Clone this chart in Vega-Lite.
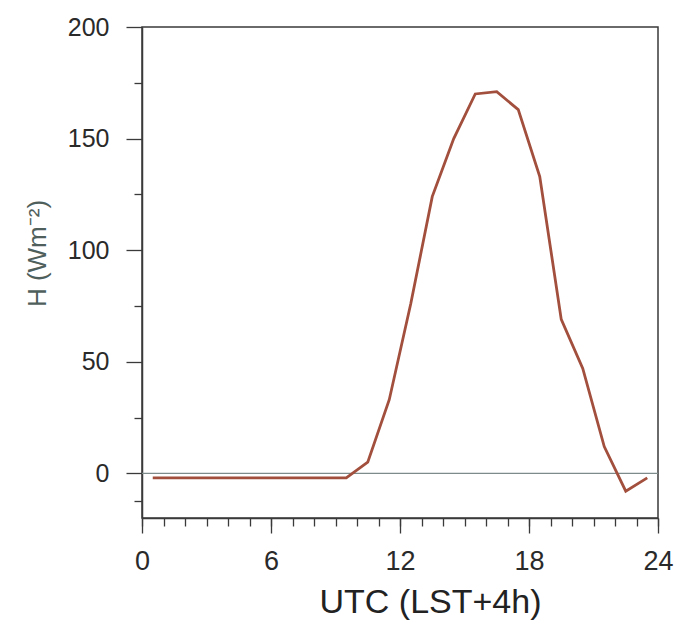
{
  "$schema": "https://vega.github.io/schema/vega-lite/v6.json",
  "width": 516,
  "height": 491,
  "autosize": {"type": "none"},
  "padding": {"left": 142, "top": 27, "right": 21, "bottom": 103},
  "background": "white",
  "config": {
    "view": {"stroke": "#3a3a3a", "strokeWidth": 1.5},
    "axis": {
      "grid": false,
      "domainColor": "#3a3a3a",
      "domainWidth": 1.5,
      "tickColor": "#3a3a3a",
      "tickWidth": 1.3,
      "labelFont": "Liberation Sans",
      "titleFont": "Liberation Sans",
      "labelColor": "#2a2a2a",
      "titleColor": "#222222",
      "labelFlush": false,
      "labelOverlap": false,
      "labelBound": false
    }
  },
  "data": {
    "values": [
      {"hour": 0.5, "H": -2},
      {"hour": 1.5, "H": -2},
      {"hour": 2.5, "H": -2},
      {"hour": 3.5, "H": -2},
      {"hour": 4.5, "H": -2},
      {"hour": 5.5, "H": -2},
      {"hour": 6.5, "H": -2},
      {"hour": 7.5, "H": -2},
      {"hour": 8.5, "H": -2},
      {"hour": 9.5, "H": -2},
      {"hour": 10.5, "H": 5},
      {"hour": 11.5, "H": 33},
      {"hour": 12.5, "H": 76},
      {"hour": 13.5, "H": 124},
      {"hour": 14.5, "H": 150},
      {"hour": 15.5, "H": 170},
      {"hour": 16.5, "H": 171},
      {"hour": 17.5, "H": 163},
      {"hour": 18.5, "H": 133},
      {"hour": 19.5, "H": 69},
      {"hour": 20.5, "H": 47},
      {"hour": 21.5, "H": 12},
      {"hour": 22.5, "H": -8},
      {"hour": 23.5, "H": -2}
    ]
  },
  "layer": [
    {
      "data": {"values": [{"zero": 0}]},
      "mark": {"type": "rule", "color": "#7d8c8a", "strokeWidth": 1.3},
      "encoding": {
        "y": {"field": "zero", "type": "quantitative", "axis": null, "scale": {"domain": [-20, 200], "nice": false, "zero": false}}
      }
    },
    {
      "mark": {"type": "point", "opacity": 0},
      "encoding": {
        "x": {
          "field": "hour", "type": "quantitative",
          "scale": {"domain": [0, 24], "nice": false},
          "axis": {"orient": "bottom", "values": [0,1,2,3,4,5,6,7,8,9,10,11,12,13,14,15,16,17,18,19,20,21,22,23,24], "tickSize": 8, "labels": false, "domain": false, "title": null}
        },
        "y": {
          "field": "H", "type": "quantitative",
          "scale": {"domain": [-20, 200], "nice": false, "zero": false},
          "axis": {"orient": "left", "values": [175, 125, 75, 25, -12.5], "tickSize": 8, "labels": false, "domain": false, "title": null}
        }
      }
    },
    {
      "mark": {"type": "line", "color": "#a24f3d", "strokeWidth": 2.8},
      "encoding": {
        "x": {
          "field": "hour", "type": "quantitative",
          "scale": {"domain": [0, 24], "nice": false},
          "axis": {
            "orient": "bottom", "values": [0, 6, 12, 18, 24], "tickSize": 15,
            "labelFontSize": 27, "labelPadding": 15,
            "title": "UTC (LST+4h)", "titleFontSize": 34, "titleFontWeight": "normal",
            "titleX": 288, "titleY": 94, "titleAlign": "center", "titleBaseline": "alphabetic", "titleAnchor": null
          }
        },
        "y": {
          "field": "H", "type": "quantitative",
          "scale": {"domain": [-20, 200], "nice": false, "zero": false},
          "axis": {
            "orient": "left", "values": [0, 50, 100, 150, 200], "tickSize": 16,
            "labelFontSize": 25, "labelPadding": 17,
            "title": "H  (Wm⁻²)", "titleFontSize": 26, "titleFontWeight": "normal", "titleColor": "#4f605c",
            "titleAngle": -90, "titleX": -97, "titleY": 226, "titleAlign": "center", "titleBaseline": "alphabetic"
          }
        }
      }
    }
  ],
  "resolve": {"axis": {"x": "independent", "y": "independent"}}
}
